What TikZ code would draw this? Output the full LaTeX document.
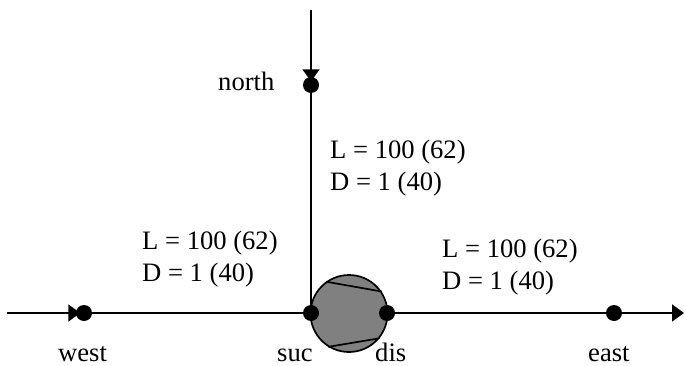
\documentclass[tikz,border=0pt]{standalone}
\usepackage{fontspec}
\setmainfont{Liberation Serif}
\usetikzlibrary{arrows.meta}
\tikzset{
  pipe/.style={black, line width=1.7pt},
  flow/.style={pipe, -{Triangle[length=12pt,width=17pt]}},
  inflow/.style={flow, shorten >=-4.5pt},
  junction/.style={circle, fill=black, minimum size=16pt, inner sep=0pt},
  pumpbody/.style={circle, draw=black, line width=1.7pt, fill=black!50, minimum size=77pt, inner sep=0pt},
  lab/.style={anchor=base west, inner sep=0pt, font=\fontsize{26.6}{32}\selectfont},
  pipelab/.style={lab, align=left},
}

\begin{document}
\begin{tikzpicture}[x=1pt,y=-1pt]
  \useasboundingbox (0,0) rectangle (684,366);

  % Pump between suction and discharge.
  \node[pumpbody] (pump) at (349,313.5) {};
  \draw[pipe] (pump.126) -- (pump.34);
  \draw[pipe] (pump.238) -- (pump.321);

  % Junctions.
  \node[junction] (west) at (84,313) {};
  \node[junction] (suc) at (311,313) {};
  \node[junction] (dis) at (387,313) {};
  \node[junction] (east) at (614,313) {};
  \node[junction] (north) at (311,85) {};
  \coordinate (westin) at (7,313);
  \coordinate (eastout) at (684,313);
  \coordinate (northin) at (311,10);

  % Pipes.
  \draw[inflow] (westin) -- (west);
  \draw[pipe] (west) -- (suc);
  \draw[inflow] (northin) -- (north);
  \draw[pipe] (north) -- (suc);
  \draw[pipe] (dis) -- (east);
  \draw[flow] (east) -- (eastout);

  % Labels.
  \node[lab] (northlab) at (218,90.5) {north};
  \node[lab] (westlab) at (58,361) {west};
  \node[lab] (suclab) at (277,361) {suc};
  \node[lab] (dislab) at (375,361) {dis};
  \node[lab] (eastlab) at (588,361) {east};

  \node[pipelab] (northpipe) at (330,190) {L = 100 (62)\\D = 1 (40)};
  \node[pipelab] (westpipe) at (142,281) {L = 100 (62)\\D = 1 (40)};
  \node[pipelab] (eastpipe) at (442,289) {L = 100 (62)\\D = 1 (40)};
\end{tikzpicture}
\end{document}
